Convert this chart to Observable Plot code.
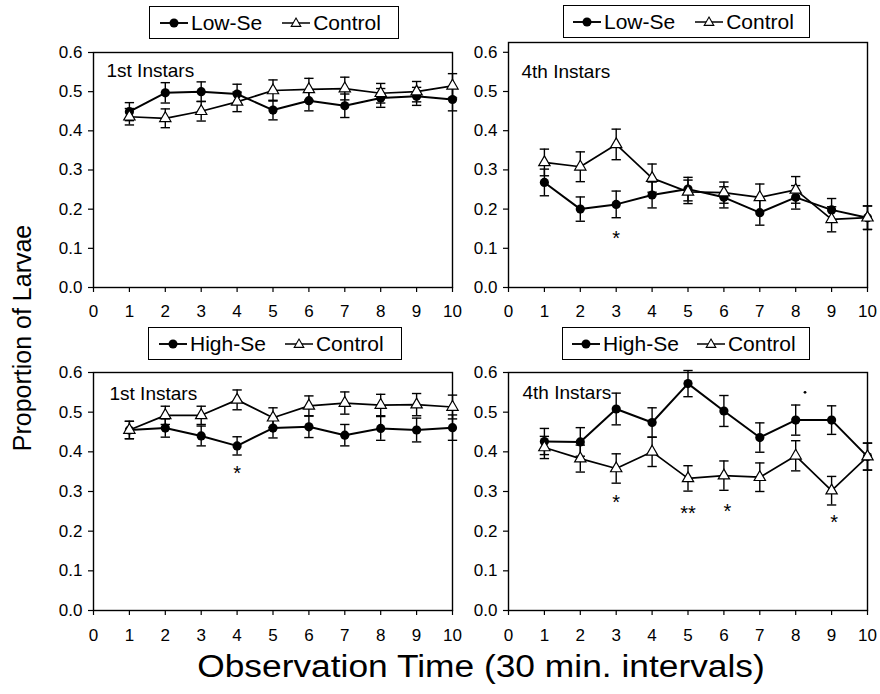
<!DOCTYPE html>
<html>
<head>
<meta charset="utf-8">
<script src="https://cdn.jsdelivr.net/npm/d3@7"></script>
<script src="https://cdn.jsdelivr.net/npm/@observablehq/plot@0.6"></script>
<style>
  html, body { margin: 0; padding: 0; background: #fff; }
  #wrap { position: relative; width: 880px; height: 694px; font-family: "Liberation Sans", Arial, sans-serif; color: #000; overflow: hidden; }
  .panel { position: absolute; }
  .legend { position: absolute; box-sizing: border-box; border: 1.5px solid #000; background: #fff; display: flex; align-items: center; font-size: 21px; white-space: nowrap; }
  .legend svg { display: block; }
  .ttl { position: absolute; white-space: nowrap; }
</style>
</head>
<body>
<div id="wrap"></div>
<script>
// ---------- data ----------
const times = [1, 2, 3, 4, 5, 6, 7, 8, 9, 10];
const xTicks = [0, 1, 2, 3, 4, 5, 6, 7, 8, 9, 10];
const yTicks = [0, 0.1, 0.2, 0.3, 0.4, 0.5, 0.6];

// Low-Se experiment, 1st instars
const lowSe1st      = [0.449, 0.497, 0.500, 0.494, 0.453, 0.477, 0.464, 0.484, 0.488, 0.480];
const lowSe1stErr   = [0.023, 0.026, 0.025, 0.025, 0.025, 0.026, 0.030, 0.024, 0.023, 0.029];
const ctrlA1st      = [0.436, 0.432, 0.450, 0.474, 0.503, 0.506, 0.508, 0.496, 0.500, 0.515];
const ctrlA1stErr   = [0.021, 0.024, 0.025, 0.025, 0.027, 0.028, 0.029, 0.025, 0.026, 0.031];

// Low-Se experiment, 4th instars
const lowSe4th      = [0.268, 0.200, 0.212, 0.236, 0.251, 0.230, 0.191, 0.230, 0.198, 0.178];
const lowSe4thErr   = [0.034, 0.031, 0.034, 0.033, 0.030, 0.027, 0.032, 0.030, 0.029, 0.030];
const ctrlA4th      = [0.319, 0.308, 0.365, 0.279, 0.244, 0.242, 0.230, 0.249, 0.174, 0.178];
const ctrlA4thErr   = [0.034, 0.038, 0.039, 0.036, 0.030, 0.027, 0.034, 0.034, 0.032, 0.030];

// High-Se experiment, 1st instars
const highSe1st     = [0.455, 0.460, 0.440, 0.415, 0.460, 0.463, 0.442, 0.459, 0.455, 0.461];
const highSe1stErr  = [0.022, 0.023, 0.025, 0.023, 0.025, 0.027, 0.027, 0.030, 0.030, 0.032];
const ctrlB1st      = [0.455, 0.492, 0.492, 0.531, 0.486, 0.516, 0.523, 0.518, 0.519, 0.513];
const ctrlB1stErr   = [0.022, 0.023, 0.023, 0.025, 0.025, 0.025, 0.028, 0.027, 0.028, 0.030];

// High-Se experiment, 4th instars
const highSe4th     = [0.426, 0.425, 0.508, 0.474, 0.572, 0.503, 0.436, 0.480, 0.480, 0.388];
const highSe4thErr  = [0.033, 0.036, 0.040, 0.037, 0.033, 0.039, 0.037, 0.038, 0.036, 0.034];
const ctrlB4th      = [0.411, 0.383, 0.358, 0.400, 0.333, 0.340, 0.336, 0.390, 0.302, 0.388];
const ctrlB4thErr   = [0.028, 0.034, 0.037, 0.037, 0.032, 0.037, 0.036, 0.038, 0.036, 0.034];

// significance marks
const sigLow4thX = [3];     const sigLow4thY = [0.126];  const sigLow4thT = ["*"];
const sigHigh1stX = [4];    const sigHigh1stY = [0.344]; const sigHigh1stT = ["*"];
const sigHigh4thX = [3, 5, 6.1, 9.07];
const sigHigh4thY = [0.271, 0.245, 0.249, 0.221];
const sigHigh4thT = ["*", "**", "*", "*"];
const dotHigh4thX = [8.26]; const dotHigh4thY = [0.55];

const panelLabels = ["1st Instars", "4th Instars", "1st Instars", "4th Instars"];
const treatNames = ["Low-Se", "Low-Se", "High-Se", "High-Se"];
const ctrlName = "Control";

// ---------- drawing ----------
const FONT = '"Liberation Sans", Arial, sans-serif';
const wrap = document.getElementById("wrap");

function zipSig(xs, ys, ts) { return xs.map((x, i) => ({x, y: ys[i], t: ts[i]})); }

function panel(o) {
  const treatRows = times.map((t, i) => ({t, v: o.treat[i], e: o.treatErr[i]}));
  const ctrlRows = times.map((t, i) => ({t, v: o.ctrl[i], e: o.ctrlErr[i]}));
  const all = treatRows.concat(ctrlRows);
  const lo = d => d.v - d.e, hi = d => d.v + d.e;
  const cap = 0.13;
  const svg = Plot.plot({
    width: 460,
    height: o.height,
    marginLeft: 93,
    marginRight: 8,
    marginTop: o.marginTop,
    marginBottom: o.marginBottom,
    style: {fontFamily: FONT, fontSize: "17px", color: "#000", background: "transparent", overflow: "visible"},
    x: {domain: [0, 10]},
    y: {domain: [0, o.yMax]},
    marks: [
      Plot.axisX({ticks: xTicks, tickSize: 5, tickPadding: o.xPad, tickFormat: d => String(d), fontSize: 17, label: null, stroke: "#000", strokeWidth: 1.2}),
      Plot.axisY({ticks: yTicks, tickSize: 5, tickPadding: 6, tickFormat: d3.format(".1f"), fontSize: 17, label: null, stroke: "#000", strokeWidth: 1.2}),
      Plot.frame({stroke: "#000", strokeWidth: 1.4}),
      Plot.ruleX(all, {x: "t", y1: lo, y2: hi, stroke: "#000", strokeWidth: 1.4}),
      Plot.link(all, {x1: d => d.t - cap, x2: d => d.t + cap, y1: lo, y2: lo, stroke: "#000", strokeWidth: 1.4}),
      Plot.link(all, {x1: d => d.t - cap, x2: d => d.t + cap, y1: hi, y2: hi, stroke: "#000", strokeWidth: 1.4}),
      Plot.line(treatRows, {x: "t", y: "v", stroke: "#000", strokeWidth: 2}),
      Plot.line(ctrlRows, {x: "t", y: "v", stroke: "#000", strokeWidth: 1.7}),
      Plot.dot(treatRows, {x: "t", y: "v", r: 4.6, fill: "#000", symbol: "circle"}),
      Plot.dot(ctrlRows, {x: "t", y: "v", r: 4.2, symbol: "triangle", fill: "#fff", stroke: "#000", strokeWidth: 1.2}),
      Plot.text([o.label], {frameAnchor: "top-left", dx: o.labelDx, dy: o.labelDy, text: d => d, fontSize: 19, textAnchor: "start", lineAnchor: "middle", fill: "#000"}),
      Plot.text(o.sigs, {x: "x", y: "y", text: "t", fontSize: 20, fill: "#000", lineAnchor: "middle"}),
      Plot.dot(o.dots, {x: "x", y: "y", r: 1.4, fill: "#000"})
    ]
  });
  svg.classList.add("panel");
  svg.style.left = o.left + "px";
  svg.style.top = o.top + "px";
  wrap.appendChild(svg);
}

function legend(o) {
  const d = document.createElement("div");
  d.className = "legend";
  d.style.left = o.left + "px";
  d.style.top = o.top + "px";
  d.style.width = o.width + "px";
  d.style.height = o.height + "px";
  const circ = `<svg width="28" height="14"><line x1="0" y1="7" x2="28" y2="7" stroke="#000" stroke-width="1.9"/><circle cx="14" cy="7" r="4.5" fill="#000"/></svg>`;
  const tri = `<svg width="28" height="14"><line x1="0" y1="7" x2="28" y2="7" stroke="#000" stroke-width="1.5"/><path d="M14,2L18.8,10.4L9.2,10.4Z" fill="#fff" stroke="#000" stroke-width="1.1"/></svg>`;
  d.innerHTML = `<span style="margin-left:${o.pad}px">${circ}</span><span style="margin-left:3px">${o.treat}</span>` +
                `<span style="margin-left:${o.gap}px">${tri}</span><span style="margin-left:3px">${ctrlName}</span>`;
  wrap.appendChild(d);
}

panel({treat: lowSe1st, treatErr: lowSe1stErr, ctrl: ctrlA1st, ctrlErr: ctrlA1stErr,
       label: panelLabels[0], sigs: [], dots: [], yMax: 0.6,
       left: 0, top: 0, height: 320, marginTop: 52, marginBottom: 33, xPad: 12, labelDx: 13, labelDy: 18});
panel({treat: lowSe4th, treatErr: lowSe4thErr, ctrl: ctrlA4th, ctrlErr: ctrlA4thErr,
       label: panelLabels[1], sigs: zipSig(sigLow4thX, sigLow4thY, sigLow4thT), dots: [], yMax: 0.625,
       left: 415, top: 0, height: 320, marginTop: 42, marginBottom: 33, xPad: 12, labelDx: 13, labelDy: 29});
panel({treat: highSe1st, treatErr: highSe1stErr, ctrl: ctrlB1st, ctrlErr: ctrlB1stErr,
       label: panelLabels[2], sigs: zipSig(sigHigh1stX, sigHigh1stY, sigHigh1stT), dots: [], yMax: 0.6,
       left: 0, top: 320, height: 320, marginTop: 52, marginBottom: 30, xPad: 13, labelDx: 16, labelDy: 21});
panel({treat: highSe4th, treatErr: highSe4thErr, ctrl: ctrlB4th, ctrlErr: ctrlB4thErr,
       label: panelLabels[3], sigs: zipSig(sigHigh4thX, sigHigh4thY, sigHigh4thT),
       dots: dotHigh4thX.map((x, i) => ({x, y: dotHigh4thY[i]})), yMax: 0.6,
       left: 415, top: 320, height: 320, marginTop: 52, marginBottom: 30, xPad: 13, labelDx: 14, labelDy: 20});

legend({left: 149, top: 6, width: 250, height: 33, pad: 10, gap: 20, treat: treatNames[0]});
legend({left: 563, top: 5, width: 247, height: 33, pad: 9, gap: 20, treat: treatNames[1]});
legend({left: 148, top: 327, width: 254, height: 33, pad: 10, gap: 19, treat: treatNames[2]});
legend({left: 562, top: 327, width: 248, height: 33, pad: 9, gap: 18, treat: treatNames[3]});

const xt = document.createElement("div");
xt.className = "ttl";
xt.textContent = "Observation Time (30 min. intervals)";
xt.style.cssText += "left:481px; top:667px; transform:translate(-50%,-50%) scaleX(1.14); font-size:31px;";
wrap.appendChild(xt);

const yt = document.createElement("div");
yt.className = "ttl";
yt.textContent = "Proportion of Larvae";
yt.style.cssText += "left:22px; top:338px; transform:translate(-50%,-50%) rotate(-90deg); font-size:25px;";
wrap.appendChild(yt);
</script>
</body>
</html>
